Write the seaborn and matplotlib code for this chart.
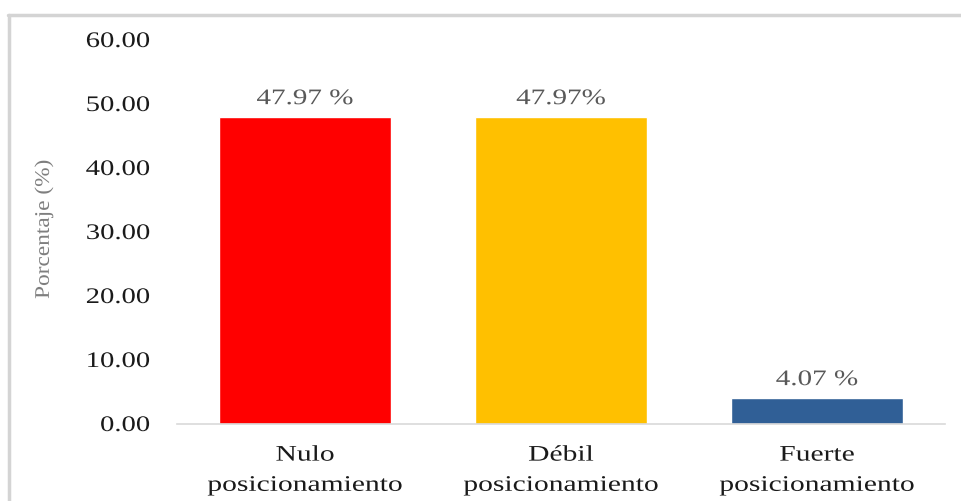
import matplotlib
matplotlib.use("Agg")
import matplotlib.pyplot as plt
from matplotlib.lines import Line2D
from matplotlib.patheffects import AbstractPathEffect
from matplotlib.transforms import Affine2D
import seaborn as sns
import pandas as pd

# Data
categories = ["Nulo\nposicionamiento", "Débil\nposicionamiento", "Fuerte\nposicionamiento"]
values = [47.97, 47.97, 4.07]
value_labels = ["47.97 %", "47.97%", "4.07 %"]
bar_colors = ["#FF0000", "#FFC000", "#305F96"]
y_ticks = [0, 10, 20, 30, 40, 50, 60]

df = pd.DataFrame({"categoria": categories, "porcentaje": values})


class WideText(AbstractPathEffect):
    """Widen glyphs horizontally, keeping each line anchored."""

    def __init__(self, sx=1.3, anchor="center"):
        super().__init__()
        self.sx = sx
        self.anchor = anchor

    def draw_path(self, renderer, gc, tpath, affine, rgbFace=None):
        ext = tpath.get_extents()
        if self.anchor == "right":
            cx = ext.x1
        elif self.anchor == "left":
            cx = ext.x0
        else:
            cx = (ext.x0 + ext.x1) / 2
        stretch = Affine2D().translate(-cx, 0).scale(self.sx, 1).translate(cx, 0)
        renderer.draw_path(gc, tpath, stretch + affine, rgbFace)


sns.set_theme(style="white")
plt.rcParams["font.family"] = ["Liberation Serif", "DejaVu Serif"]

fig = plt.figure(figsize=(9.61, 5.02), dpi=100)
fig.patch.set_facecolor("white")

ax = fig.add_axes([177 / 961, 1 - 425 / 502, (945 - 177) / 961, (425 - 41) / 502])
sns.barplot(data=df, x="categoria", y="porcentaje", hue="categoria",
            palette=bar_colors, width=0.67, legend=False, saturation=1, ax=ax)

ax.set_xlim(-0.5, 2.5)
ax.set_ylim(0, 60)
ax.set_yticks(y_ticks)
ax.set_yticklabels([f"{t:.2f}" for t in y_ticks],
                   path_effects=[WideText(1.29, "right")])
ax.tick_params(axis="y", length=0, pad=19.4, labelsize=16, labelcolor="#1a1a1a")

# Category labels under each bar
ax.set_xticks(range(len(categories)))
ax.set_xticklabels([])
ax.tick_params(axis="x", length=0)
for i, cat in enumerate(categories):
    ax.annotate(cat, (i, 0), xycoords=("data", "axes fraction"),
                xytext=(0, -34), textcoords="offset points",
                ha="center", va="center", fontsize=16, color="#1a1a1a",
                linespacing=1.8, path_effects=[WideText(1.33)])

for s in ["top", "right", "left"]:
    ax.spines[s].set_visible(False)
ax.spines["bottom"].set_color("#d9d9d9")
ax.spines["bottom"].set_linewidth(1.2)

ax.set_xlabel("")
ax.set_ylabel("")
fig.text(44 / 961, 1 - 230 / 502, "Porcentaje (%)", rotation=90, ha="center",
         va="center", fontsize=15, color="#7f7f7f",
         path_effects=[WideText(1.12)])

# Value labels above each bar
for patch, txt in zip(ax.patches, value_labels):
    x = patch.get_x() + patch.get_width() / 2
    ax.annotate(txt, (x, patch.get_height()), xytext=(0, 12.5),
                textcoords="offset points", ha="center", va="center",
                fontsize=16, color="#595959", path_effects=[WideText(1.31)])

# Outer frame lines (top and left)
fig.add_artist(Line2D([8 / 961, 1], [1 - 15.5 / 502, 1 - 15.5 / 502],
                      transform=fig.transFigure, color="#d4d4d4", lw=2.5))
fig.add_artist(Line2D([9 / 961, 9 / 961], [0, 1 - 15.5 / 502],
                      transform=fig.transFigure, color="#d4d4d4", lw=2.5))

fig.savefig("out.png", dpi=100, facecolor="white")
